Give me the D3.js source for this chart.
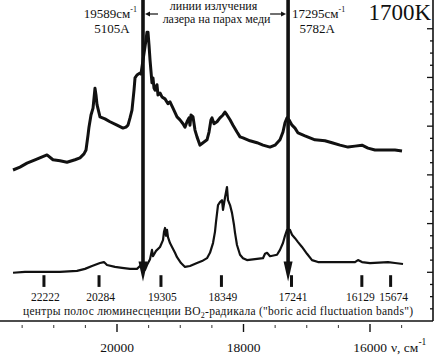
<!DOCTYPE html>
<html><head><meta charset="utf-8">
<script src="https://cdn.jsdelivr.net/npm/d3@7/dist/d3.min.js"></script>
<style>
html,body{margin:0;padding:0;background:#fff;}
svg{display:block;}
text{font-family:"Liberation Serif","Times New Roman",serif;fill:#111;}
</style></head>
<body>
<script>
// ---- data (wavenumber cm^-1, intensity in arbitrary units) ----
const upperNu = [21644,21534,21423,21296,21107,21012,20901,20791,20664,20585,20522,20490,20458,20443,20411,20379,20348,20332,20316,20269,20190,20111,20000,19905,19858,19826,19794,19763,19731,19715,19684,19636,19621,
  19542,19526,19510,19494,19478,19447,19431,19415,19399,19368,19352,19320,19289,19241,19194,19162,19115,19051,19004,18957,18925,18893,18862,18846,18830,18798,18767,18735,18688,18640,18577,18545,18514,18498,18466,18419,18372,18324,18293,18261,18213,18166,18103,18055,18008,17897,17787,17692,17581,17502,17423,17376,17344,17312,17281,17233,17186,17138,17028,16870,16712,16601,16474,16348,16237,16127,16032,15921,15763,15605,15494];
const upperI = [3.10,3.16,3.24,3.31,3.41,3.31,3.29,3.26,3.31,3.35,3.43,3.51,3.82,3.98,4.23,4.37,4.78,4.64,4.44,4.19,4.15,4.09,4.02,3.96,3.98,4.02,4.17,4.33,4.74,4.99,5.05,5.09,5.07,
  5.77,5.93,5.93,5.67,5.36,4.89,4.99,4.78,4.74,4.85,4.64,4.68,4.60,4.56,4.46,4.50,4.37,4.19,4.13,4.05,3.98,4.09,4.17,4.02,4.23,4.19,3.92,3.78,3.61,3.66,3.72,3.88,4.13,4.17,4.05,4.09,4.17,4.23,4.29,4.23,4.13,4.02,3.88,3.78,3.76,3.70,3.66,3.61,3.57,3.61,3.72,3.88,4.07,4.17,4.13,4.02,3.96,3.86,3.80,3.72,3.70,3.66,3.61,3.57,3.59,3.61,3.55,3.51,3.51,3.51,3.49];

const lowerNu = [21644,21455,21170,20901,20632,20506,20395,20269,20206,20158,20032,19921,19794,19684,19636,
  19557,19526,19478,19447,19431,19383,19320,19273,19257,19241,19225,19209,19194,19162,19130,19083,19051,18988,18925,18846,18735,18656,18577,18530,18482,18451,18435,18403,18372,18340,18324,18293,18261,18245,18213,18182,18150,18134,18103,18055,18008,17945,17818,17692,17660,17628,17581,17470,17423,17376,17344,17312,17265,17233,17186,17138,17075,16996,16917,16822,16712,16474,16237,16190,16127,16000,15715,15605,15478];
const lowerI = [0.99,1.01,1.01,1.01,1.03,1.07,1.13,1.19,1.21,1.15,1.11,1.09,1.07,1.07,1.13,
  1.05,1.15,1.27,1.46,1.33,1.44,1.52,1.66,1.83,1.91,1.75,1.87,1.72,1.60,1.52,1.40,1.31,1.19,1.11,1.13,1.19,1.23,1.29,1.40,1.60,1.83,2.03,2.38,2.44,2.48,2.28,2.53,2.75,2.48,2.38,2.22,1.97,1.81,1.56,1.36,1.29,1.25,1.27,1.29,1.38,1.40,1.33,1.36,1.46,1.60,1.75,1.87,1.87,1.77,1.70,1.62,1.52,1.38,1.25,1.21,1.21,1.21,1.21,1.25,1.21,1.19,1.21,1.19,1.17];

const laserNu = [19589, 17295];
const laserNuLabels = ["19589см", "17295см"];
const laserWaveLabels = ["5105А", "5782А"];
const laserNote = ["линии излучения", "лазера на парах меди"];

const bandCenters = [22222, 20284, 19305, 18349, 17241, 16129, 15674];
// 22222 lies beyond the axis; it is drawn at the left edge
const bandPlotAt = [21155, 20284, 19305, 18349, 17241, 16129, 15674];
const bandCaption = "центры полос люминесценции BO";
const bandCaptionTail = "-радикала (\"boric acid fluctuation bands\")";

const xMajor = [20000, 18000, 16000];
const xMinor = [21500,21000,20500,19500,19000,18500,17500,17000,16500,15500];
const tempLabel = "1700K";

// ---- layout ----
const W = 435, H = 356;
const FF = "'Liberation Serif','Times New Roman',serif";
const svg = d3.select("body").append("svg").attr("width", W).attr("height", H)
  .attr("font-family", FF);

const x = d3.scaleLinear().domain([20000, 16000]).range([117, 370]);
const y = d3.scaleLinear().domain([0, 6.59]).range([321, 0]);

// right axis frame with inward ticks
svg.append("line").attr("x1", 433).attr("x2", 433).attr("y1", 0).attr("y2", y(0))
  .attr("stroke", "#111").attr("stroke-width", 1.6);
const yt = d3.range(1, 25).map(k => k * 0.25);
svg.selectAll(".yt").data(yt).join("line")
  .attr("x1", 433).attr("x2", d => (Math.abs(d - Math.round(d)) < 1e-6) ? 427 : 430)
  .attr("y1", d => y(d)).attr("y2", d => y(d))
  .attr("stroke", "#111").attr("stroke-width", 1.3);

// bottom axis
svg.append("line").attr("x1", 0).attr("x2", 433).attr("y1", y(0)).attr("y2", y(0))
  .attr("stroke", "#111").attr("stroke-width", 1.6);
svg.selectAll(".xmin").data(xMinor).join("line")
  .attr("x1", d => x(d)).attr("x2", d => x(d)).attr("y1", 325).attr("y2", 328)
  .attr("stroke", "#333").attr("stroke-width", 1);
svg.selectAll(".xmaj").data(xMajor).join("line")
  .attr("x1", d => x(d)).attr("x2", d => x(d)).attr("y1", 324).attr("y2", 332)
  .attr("stroke", "#111").attr("stroke-width", 1.4);
svg.selectAll(".xl").data(xMajor).join("text")
  .attr("x", d => x(d)).attr("y", 352).attr("text-anchor", "middle")
  .attr("font-size", 13.5).text(d => d);
const unit = svg.append("text").attr("x", 391).attr("y", 352).attr("font-size", 13.5);
unit.append("tspan").text("ν, см");
unit.append("tspan").attr("dy", -7).attr("font-size", 9.5).text("-1");

// spectra
const line = d3.line().x(d => x(d[0])).y(d => y(d[1]));
svg.append("path").datum(d3.zip(upperNu, upperI)).attr("d", line)
  .attr("fill", "none").attr("stroke", "#111").attr("stroke-width", 3).attr("stroke-linejoin", "round");
svg.append("path").datum(d3.zip(lowerNu, lowerI)).attr("d", line)
  .attr("fill", "none").attr("stroke", "#111").attr("stroke-width", 2.2).attr("stroke-linejoin", "round");

// laser lines with arrowheads
const tipVal = 0.81;
laserNu.forEach(nu => {
  const lx = x(nu), ty = y(tipVal);
  svg.append("line").attr("x1", lx).attr("x2", lx).attr("y1", 0).attr("y2", ty - 10)
    .attr("stroke", "#111").attr("stroke-width", 3.6);
  svg.append("path").attr("d", `M${lx - 4.5},${ty - 20} L${lx + 4.5},${ty - 20} L${lx},${ty} Z`).attr("fill", "#111");
});

// band markers
svg.selectAll(".bm").data(bandPlotAt).join("rect")
  .attr("x", d => x(d) - 1.5).attr("width", 3)
  .attr("y", y(0.94)).attr("height", y(0.70) - y(0.94)).attr("fill", "#111");
const labelNudge = i => (i === 6 ? 3 : i === 5 ? -1.5 : 1.5);
svg.selectAll(".bl").data(bandCenters).join("text")
  .attr("x", (d, i) => x(bandPlotAt[i]) + labelNudge(i)).attr("y", 301).attr("text-anchor", "middle")
  .attr("font-size", 11.5).text(d => d);
const cap = svg.append("text").attr("x", 23).attr("y", 315).attr("font-size", 11.5)
  .attr("textLength", 390).attr("lengthAdjust", "spacing");
cap.append("tspan").text(bandCaption);
cap.append("tspan").attr("dy", 3).attr("font-size", 8).text("2");
cap.append("tspan").attr("dy", -3).text(bandCaptionTail);

// top annotations
const lx0 = x(laserNu[0]), lx1 = x(laserNu[1]);
const t0 = svg.append("text").attr("x", lx0 - 6).attr("y", 18).attr("text-anchor", "end").attr("font-size", 13);
t0.append("tspan").text(laserNuLabels[0]);
t0.append("tspan").attr("dy", -6).attr("font-size", 8).text("-1");
svg.append("text").attr("x", lx0 - 31).attr("y", 33).attr("text-anchor", "middle").attr("font-size", 13).text(laserWaveLabels[0]);
const t1 = svg.append("text").attr("x", lx1 + 4).attr("y", 18).attr("font-size", 13);
t1.append("tspan").text(laserNuLabels[1]);
t1.append("tspan").attr("dy", -6).attr("font-size", 8).text("-1");
svg.append("text").attr("x", lx1 + 29).attr("y", 33).attr("text-anchor", "middle").attr("font-size", 13).text(laserWaveLabels[1]);
svg.append("text").attr("x", (lx0 + lx1) / 2 - 2).attr("y", 10).attr("text-anchor", "middle").attr("font-size", 12).text(laserNote[0]);
svg.append("text").attr("x", (lx0 + lx1) / 2 + 1).attr("y", 23).attr("text-anchor", "middle").attr("font-size", 12).text(laserNote[1]);
// small arrows pointing at laser lines
svg.append("line").attr("x1", lx0 + 15).attr("x2", lx0 + 5).attr("y1", 14).attr("y2", 14).attr("stroke", "#111").attr("stroke-width", 1.2);
svg.append("path").attr("d", `M${lx0 + 2},14 L${lx0 + 7},11.5 L${lx0 + 7},16.5 Z`).attr("fill", "#111");
svg.append("line").attr("x1", lx1 - 18).attr("x2", lx1 - 5).attr("y1", 14).attr("y2", 14).attr("stroke", "#111").attr("stroke-width", 1.2);
svg.append("path").attr("d", `M${lx1 - 2},14 L${lx1 - 7},11.5 L${lx1 - 7},16.5 Z`).attr("fill", "#111");

svg.append("text").attr("x", 431).attr("y", 20).attr("text-anchor", "end").attr("font-size", 23).text(tempLabel);
</script>
</body></html>
